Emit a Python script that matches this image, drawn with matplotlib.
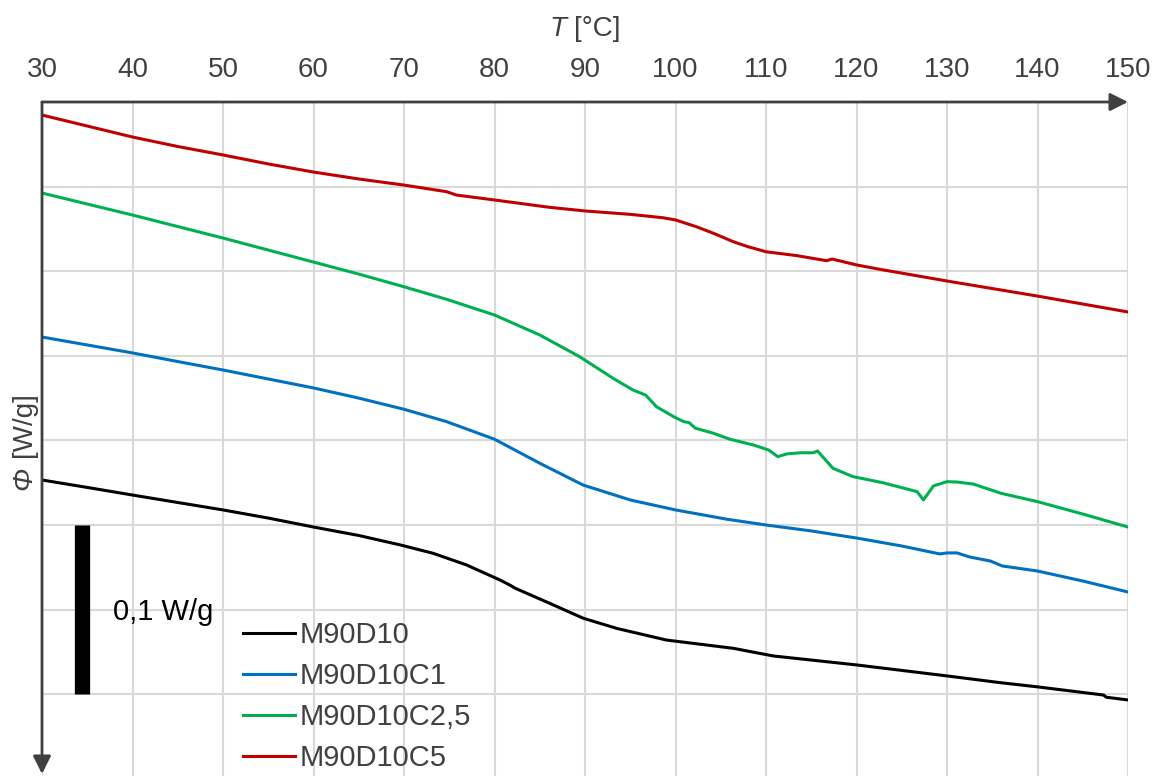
# DSC曲线 (热流 vs 温度)
import matplotlib
matplotlib.use('Agg')
import matplotlib.pyplot as plt
from matplotlib import rcParams

rcParams['font.family'] = ['Liberation Sans', 'DejaVu Sans']
rcParams['axes.unicode_minus'] = False

# 数据 (读图得到, 热流以顶部为零点, 向下为正, 单位 W/g)
T_M90D10 = [30, 35, 40, 45, 50, 55, 60, 65, 69.6, 73.2, 76.9, 80.6, 81.7, 82.3, 86.1, 89.8,
            93.5, 99, 106.4, 110.8, 120, 130, 135.9, 139.9, 147.3, 147.6, 150]
phi_M90D10 = [0.2234, 0.2278, 0.2323, 0.2367, 0.2411, 0.2459, 0.2512, 0.2562, 0.2618, 0.2667,
              0.2736, 0.2825, 0.2855, 0.2874, 0.2963, 0.3051, 0.3111, 0.3180, 0.3229, 0.3274,
              0.3327, 0.3392, 0.3432, 0.3456, 0.3505, 0.3518, 0.3534]

T_M90D10C1 = [30, 35, 40, 45, 50, 55, 60, 65, 70, 74.7, 80, 85, 89.8, 95, 100, 105.7, 110,
              115, 120, 125, 129.2, 130, 131.1, 132.5, 134.8, 136.1, 140, 145, 150]
phi_M90D10C1 = [0.1389, 0.1436, 0.1483, 0.1534, 0.1584, 0.1637, 0.1690, 0.1750, 0.1816, 0.1889,
                0.1993, 0.2135, 0.2264, 0.2352, 0.2411, 0.2466, 0.2500, 0.2535, 0.2577, 0.2624,
                0.2671, 0.2665, 0.2665, 0.2689, 0.2713, 0.2742, 0.2772, 0.2831, 0.2896]

T_M90D10C25 = [30, 35, 40, 45, 50, 55, 60, 65, 70, 74.7, 80, 85, 89.4, 93.1, 95.3, 96.7, 97.9,
               99.8, 100.9, 101.5, 102.2, 104.2, 106, 108.6, 110.3, 111.3, 112.3, 113.8, 115.2,
               115.7, 117.4, 119.6, 122.9, 126.7, 127.4, 128.5, 130, 131.1, 132.9, 136, 140,
               145, 150]
phi_M90D10C25 = [0.0538, 0.0603, 0.0668, 0.0736, 0.0804, 0.0875, 0.0946, 0.1017, 0.1092, 0.1166,
                 0.1259, 0.1377, 0.1505, 0.1633, 0.1702, 0.1732, 0.1801, 0.1860, 0.1889, 0.1895,
                 0.1928, 0.1958, 0.1993, 0.2027, 0.2057, 0.2096, 0.2080, 0.2073, 0.2073, 0.2063,
                 0.2165, 0.2214, 0.2250, 0.2303, 0.2352, 0.2269, 0.2244, 0.2246, 0.2258, 0.2313,
                 0.2362, 0.2435, 0.2512]

T_M90D10C5 = [30, 35, 40, 45, 50, 55, 60, 65, 70, 74.7, 75.8, 80, 86, 90, 95, 98.6, 100, 102.3,
              104.2, 106.4, 108, 110, 113.4, 116.7, 117.3, 120, 122.6, 130, 140, 150]
phi_M90D10C5 = [0.0077, 0.0142, 0.0207, 0.0263, 0.0313, 0.0366, 0.0414, 0.0455, 0.0491, 0.0530,
                0.0550, 0.0579, 0.0622, 0.0644, 0.0664, 0.0684, 0.0697, 0.0737, 0.0776, 0.0826,
                0.0855, 0.0885, 0.0908, 0.0938, 0.0928, 0.0963, 0.0989, 0.1058, 0.1147, 0.1241]

labels = ['M90D10', 'M90D10C1', 'M90D10C2,5', 'M90D10C5']
colors = ['#000000', '#0070C0', '#00B050', '#C00000']

x_ticks = list(range(30, 151, 10))
y_grid = [0.05, 0.10, 0.15, 0.20, 0.25, 0.30, 0.35]

# 比例尺 0,1 W/g
scale_T = 34.4
scale_from, scale_to = 0.25, 0.35

W, H = 1156, 776
axis_col = '#404040'

fig = plt.figure(figsize=(W / 100, H / 100), dpi=100)
ax = fig.add_axes([42 / W, 0, 1086 / W, 674 / H])

series = [(T_M90D10, phi_M90D10), (T_M90D10C1, phi_M90D10C1),
          (T_M90D10C25, phi_M90D10C25), (T_M90D10C5, phi_M90D10C5)]
for (t, p), lab, c in zip(series, labels, colors):
    ax.plot(t, p, color=c, lw=2.2, label=lab, zorder=3, solid_joinstyle='round')

ax.plot([scale_T, scale_T], [scale_from, scale_to], color='black', lw=11,
        solid_capstyle='butt', zorder=3)
ax.text(37.85, 0.3014, '0,1 W/g', fontsize=21, color='black', ha='left', va='center')

ax.set_xlim(30, 150)
ax.set_ylim(0.39835, 0)
ax.set_xticks(x_ticks)
ax.set_yticks(y_grid)
ax.xaxis.tick_top()
ax.tick_params(axis='x', length=0, pad=13.5, labelsize=20, labelcolor=axis_col)
ax.tick_params(axis='y', length=0, labelleft=False)
ax.grid(True, color='#d9d9d9', lw=1.5, zorder=0)
ax.set_axisbelow(True)
for s in ax.spines.values():
    s.set_visible(False)

# 坐标轴箭头
arrow = dict(arrowstyle='-|>', lw=2, color=axis_col, mutation_scale=27, shrinkA=0, shrinkB=0)
ax.annotate('', xy=(1.0, 1.0), xytext=(0, 1.0), xycoords='axes fraction',
            arrowprops=arrow, annotation_clip=False, zorder=5)
ax.annotate('', xy=(0, 0.003), xytext=(0, 1.0), xycoords='axes fraction',
            arrowprops=arrow, annotation_clip=False, zorder=5)

# 轴标题
fig.text(567 / W, 1 - 29 / H, 'T', fontsize=20, style='italic', color=axis_col,
         ha='right', va='center')
fig.text(574 / W, 1 - 29 / H, '[°C]', fontsize=20, color=axis_col, ha='left', va='center')
fig.text(24 / W, 1 - 490 / H, 'Φ', fontsize=20, style='italic', color=axis_col,
         rotation=90, ha='center', va='bottom')
fig.text(24 / W, 1 - 457 / H, '[W/g]', fontsize=20, color=axis_col,
         rotation=90, ha='center', va='bottom')

leg = ax.legend(loc='upper left', bbox_to_anchor=(243 / W, 1 - 621 / H),
                bbox_transform=fig.transFigure, frameon=False, fontsize=21,
                handlelength=1.78, handletextpad=0.17, labelspacing=0.45,
                borderpad=0, borderaxespad=0)
for txt in leg.get_texts():
    txt.set_color(axis_col)

plt.savefig('out.png', dpi=100)
